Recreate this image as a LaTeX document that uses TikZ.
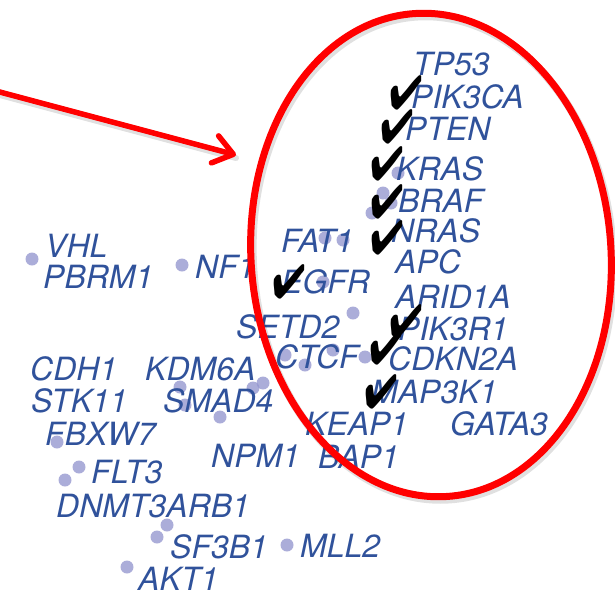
\documentclass[tikz,border=0pt]{standalone}
\usepackage{fontspec}
\setmainfont{TeX Gyre Heros}
\usepackage{pifont}
\usetikzlibrary{arrows.meta}
\definecolor{geneblue}{RGB}{48,82,155}
\definecolor{dotpurple}{RGB}{150,152,208}
\definecolor{markred}{RGB}{255,0,0}
\tikzset{
  gene/.style={anchor=base west, inner sep=0pt, text=geneblue,
    font=\fontsize{32}{32}\selectfont\itshape},
  genedot/.style={circle, fill=dotpurple, fill opacity=0.8, inner sep=0pt, minimum size=13pt},
  tick/.style={inner sep=0pt, text=black, font=\fontsize{48}{48}\selectfont, xscale=0.82, transform shape},
  ring/.style={draw=markred, line width=7pt},
  pointer/.style={draw=markred, line width=5.5pt, line cap=round,
    -{Straight Barb[length=19pt,width=28pt,line cap=round,line join=round]}},
  haze/.style={draw=black, opacity=0.12}
}
\begin{document}
\begin{tikzpicture}[x=1pt,y=-1pt]
\useasboundingbox (0,0) rectangle (615,592);
% dots
\foreach \px/\py [count=\i] in {32/259,182/265,398/173,383/193,391/203,372/213,325/238,343/240,323/282,353/313,285/355,305/365,333/350,365/357,253/388,263/383,180/387,185/405,220/417,57/442,79/467,65/480,167/525,157/537,287/545,127/567}
  \node[genedot] (d\i) at (\px,\py) {};
% gene labels
\node[gene] (tp53)   at (413,75)  {TP53};
\node[gene] (pik3ca) at (411,108) {PIK3CA};
\node[gene] (pten)   at (405,140) {PTEN};
\node[gene] (kras)   at (396,180) {KRAS};
\node[gene] (braf)   at (398,212) {BRAF};
\node[gene] (nras)   at (391,242) {NRAS};
\node[gene] (apc)    at (395,273) {APC};
\node[gene] (fat1)   at (281,252) {FAT1};
\node[gene] (egfr)   at (281,293) {EGFR};
\node[gene] (arid1a) at (395,308) {ARID1A};
\node[gene] (setd2)  at (236,338) {SETD2};
\node[gene] (pik3r1) at (398,340) {PIK3R1};
\node[gene] (ctcf)   at (275,368) {CTCF};
\node[gene] (cdkn2a) at (388,370) {CDKN2A};
\node[gene] (map3k1) at (371,403) {MAP3K1};
\node[gene] (keap1)  at (305,435) {KEAP1};
\node[gene] (gata3)  at (450,435) {GATA3};
\node[gene] (bap1)   at (318,468) {BAP1};
\node[gene] (npm1)   at (211,467) {NPM1};
\node[gene] (vhl)    at (45,257)  {VHL};
\node[gene] (pbrm1)  at (43,288)  {PBRM1};
\node[gene] (nf1)    at (195,278) {NF1};
\node[gene] (cdh1)   at (30,380)  {CDH1};
\node[gene] (kdm6a)  at (145,380) {KDM6A};
\node[gene] (stk11)  at (31,412)  {STK11};
\node[gene] (smad4)  at (163,412) {SMAD4};
\node[gene] (fbxw7)  at (45,445)  {FBXW7};
\node[gene] (flt3)   at (91,483)  {FLT3};
\node[gene] (dnmt)   at (56,517)  {DNMT3ARB1};
\node[gene] (sf3b1)  at (170,558) {SF3B1};
\node[gene] (mll2)   at (300,557) {MLL2};
\node[gene] (akt1)   at (138,590) {AKT1};
% check marks
\node[tick] (c1) at (406,93)  {\ding{52}};
\node[tick] (c2) at (397,127) {\ding{52}};
\node[tick] (c3) at (387,164) {\ding{52}};
\node[tick] (c4) at (387,202) {\ding{52}};
\node[tick] (c5) at (387,238) {\ding{52}};
\node[tick] (c6) at (289,282) {\ding{52}};
\node[tick] (c7) at (406,322) {\ding{52}};
\node[tick] (c8) at (386,348) {\ding{52}};
\node[tick] (c9) at (381,392) {\ding{52}};
% red ellipse with faint shadow
\coordinate (ectr) at (431,255);
\coordinate (ectrs) at (433,258);
\draw[haze, line width=8pt, rotate around={4:(ectrs)}] (ectrs) ellipse [x radius=180, y radius=242];
\draw[ring, rotate around={4:(ectr)}] (ectr) ellipse [x radius=180, y radius=242];
% red arrow
\coordinate (astart) at (-4,91);
\coordinate (atip) at (236,155);
\coordinate (astarts) at (-4,94);
\coordinate (atips) at (236,158);
\draw[haze, line width=6pt, line cap=round] (astarts) -- (atips);
\draw[pointer] (astart) -- (atip);
\end{tikzpicture}
\end{document}
